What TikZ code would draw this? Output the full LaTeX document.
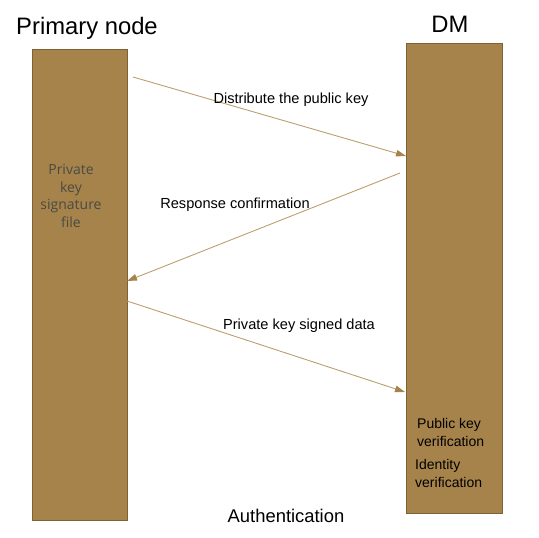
\documentclass[tikz,border=0pt]{standalone}
\usepackage{fontspec}
\setmainfont{Liberation Sans}
\newfontfamily\humfont{Open Sans}
\usetikzlibrary{arrows.meta}
\definecolor{barfill}{HTML}{A6834A}
\definecolor{barline}{HTML}{7E6233}
\definecolor{arrowc}{HTML}{BA9F70}
\definecolor{headc}{HTML}{A6834A}
\definecolor{graytext}{HTML}{4A4A45}
\begin{document}
\begin{tikzpicture}[x=1pt,y=-1pt,
  bar/.style={draw=barline, fill=barfill, line width=0.8pt, inner sep=0pt, anchor=north west},
  msg/.style={draw=arrowc, line width=0.9pt, -{Triangle[length=10pt,width=6.5pt,color=headc,fill=headc]}},
  lbl/.style={font=\fontsize{14.6}{17}\selectfont, inner sep=0pt},
  title/.style={font=\fontsize{23.8}{28}\selectfont, inner sep=0pt}]
\useasboundingbox (0,0) rectangle (539,538);
% bars
\node[bar, minimum width=95pt, minimum height=471pt] (primary) at (32,49) {};
\node[bar, minimum width=96pt, minimum height=470pt] (dm) at (406,43) {};
% titles
\node[title] (ptitle) at (87,28) {Primary node};
\node[title] (dmtitle) at (450,24) {DM};
% inner texts
\node[inner sep=0pt, align=center, text=graytext, font=\humfont\fontsize{14}{17.8}\selectfont] (pk) at (71,196) {Private\\key\\signature\\file};
\node[inner sep=0pt, align=left, anchor=west, font=\fontsize{14}{18}\selectfont] (pkv) at (417,432) {Public key\\verification};
\node[inner sep=0pt, align=left, anchor=west, font=\fontsize{14}{18}\selectfont] (idv) at (415,473) {Identity\\verification};
% connector endpoints
\coordinate (s1) at (133,77);
\coordinate (e1) at (406,156);
\coordinate (s2) at (400,173);
\coordinate (e2) at (127,281);
\coordinate (s3) at (127,301);
\coordinate (e3) at (405,392);
\draw[msg] (s1) -- (e1);
\draw[msg] (s2) -- (e2);
\draw[msg] (s3) -- (e3);
% labels
\node[lbl] (l1) at (291,100) {Distribute the public key};
\node[lbl] (l2) at (235,205) {Response confirmation};
\node[lbl] (l3) at (299,326) {Private key signed data};
\node[font=\fontsize{18.4}{22}\selectfont, inner sep=0pt] (auth) at (286,516) {Authentication};
\end{tikzpicture}
\end{document}
